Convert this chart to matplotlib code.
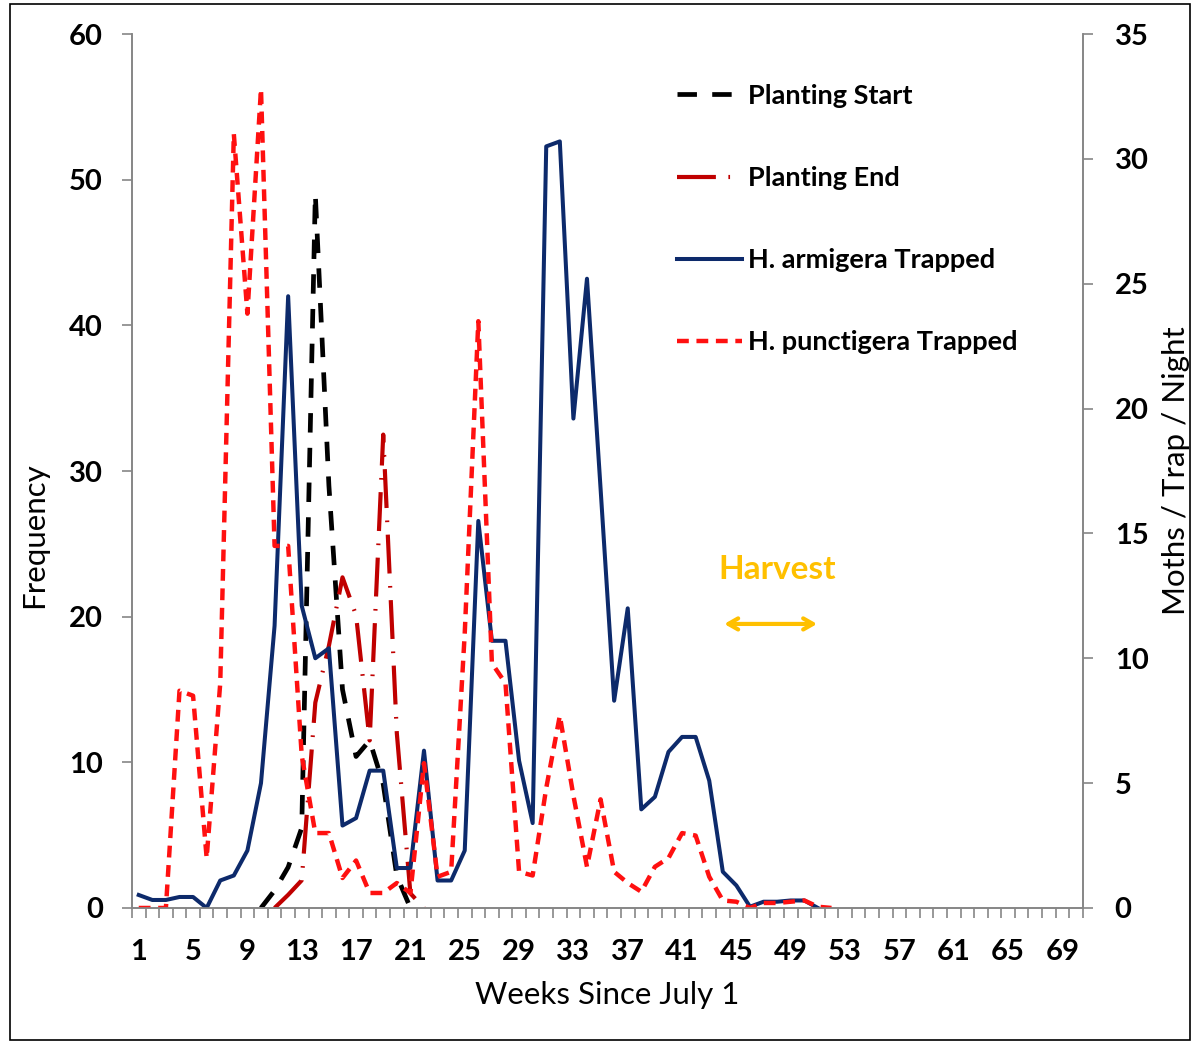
import numpy as np
import matplotlib
matplotlib.use("Agg")
import matplotlib.pyplot as plt
from matplotlib.patches import Rectangle

plt.rcParams['font.family'] = ['Lato', 'DejaVu Sans']
plt.rcParams['lines.scale_dashes'] = False

# weeks since July 1 (category axis runs 1..70)
n_weeks = 70
tick_weeks = list(range(1, 70, 4))

# moth trap counts (right axis, moths / trap / night)
trap_weeks = list(range(1, 53))
armigera = [0.52, 0.32, 0.32, 0.44, 0.44, 0.0, 1.1, 1.3, 2.3, 5.0,
            11.3, 24.5, 12.1, 10.0, 10.4, 3.3, 3.6, 5.5, 5.5, 1.6,
            1.6, 6.3, 1.1, 1.1, 2.3, 15.5, 10.7, 10.7, 5.9, 3.4,
            30.5, 30.7, 19.6, 25.2, 16.8, 8.3, 12.0, 3.95, 4.45, 6.25,
            6.85, 6.85, 5.1, 1.45, 0.9, 0.05, 0.25, 0.25, 0.3, 0.3,
            0.0, np.nan]
punctigera = [0.0, 0.0, 0.0, 8.7, 8.5, 2.0, 9.0, 31.0, 23.8, 32.8,
              14.5, 14.5, 6.1, 3.0, 3.0, 1.2, 1.9, 0.6, 0.6, 1.0,
              0.6, 5.8, 1.25, 1.45, 11.0, 23.5, 9.8, 9.0, 1.45, 1.3,
              4.8, 7.7, 4.5, 1.65, 4.35, 1.45, 1.0, 0.65, 1.65, 2.0,
              3.0, 2.9, 1.25, 0.3, 0.25, 0.0, 0.2, 0.2, 0.25, 0.3,
              0.05, 0.0]

# planting frequency (left axis)
start_weeks = list(range(10, 22))
planting_start = [0, 1.2, 2.8, 5.5, 49.0, 29.0, 15.0, 10.4, 11.5, 8.5, 2.2, 0]
end_weeks = list(range(11, 23))
planting_end = [0, 0.9, 1.9, 14.1, 18.0, 22.7, 20.1, 11.5, 32.5, 12.0, 1.0, 0]

gold = '#FFC000'
grey = '#868686'

fig = plt.figure(figsize=(11.93, 10.44), dpi=100)
ax = fig.add_axes([0.1106, 0.1303, 0.797, 0.8371])
ax2 = ax.twinx()

l1, = ax.plot(start_weeks, planting_start, color='black', lw=3.4,
              dashes=(14, 11), label='Planting Start')
l2, = ax.plot(end_weeks, planting_end, color='#C00000', lw=3.0,
              dashes=(28, 9, 1.2, 9), label='Planting End')
l3, = ax2.plot(trap_weeks, armigera, color='#0D2A6B', lw=2.9,
               label='H. armigera Trapped')
l4, = ax2.plot(trap_weeks, punctigera, color='#FF1010', lw=3.2,
               dashes=(8.5, 5.5), label='H. punctigera Trapped')

ax.set_xlim(0.5, n_weeks + 0.5)
ax.set_ylim(0, 60)
ax2.set_ylim(0, 35)
ax.set_yticks(range(0, 61, 10))
ax2.set_yticks(range(0, 36, 5))

# category ticks between weeks, labels on every 4th week
ax.set_xticks(np.arange(0.5, n_weeks + 1, 1))
ax.set_xticklabels([])
ax.set_xticks(tick_weeks, minor=True)
ax.set_xticklabels([str(w) for w in tick_weeks], minor=True)
ax.tick_params(axis='x', which='major', length=7, width=1.2, color=grey)
ax.tick_params(axis='x', which='minor', length=0, pad=22, labelsize=21)
ax.tick_params(axis='y', length=7, width=1.2, color=grey, pad=14, labelsize=21)
ax2.tick_params(axis='y', length=7, width=1.2, color=grey, pad=16, labelsize=21)
for lab in ax.get_xticklabels(minor=True) + ax.get_yticklabels() + ax2.get_yticklabels():
    lab.set_fontweight('bold')

for a in (ax, ax2):
    a.spines['top'].set_visible(False)
    for s in ('left', 'right', 'bottom'):
        a.spines[s].set_color(grey)
        a.spines[s].set_linewidth(1.2)

ax.set_ylabel('Frequency', fontsize=22.5)
ax.yaxis.set_label_coords(-0.088, 0.427)
ax2.set_ylabel('Moths / Trap / Night', fontsize=22.5)
ax2.yaxis.set_label_coords(1.083, 0.5)
ax.set_xlabel('Weeks Since July 1', fontsize=22.5)
ax.xaxis.set_label_coords(0.5, -0.083)

# harvest marker
ax.annotate('', xy=(0.620, 0.325), xytext=(0.7235, 0.325), xycoords='axes fraction',
            arrowprops=dict(arrowstyle='<->,head_length=0.7,head_width=0.4',
                            color=gold, lw=3))
ax.text(0.679, 0.387, 'Harvest', transform=ax.transAxes, color=gold,
        fontsize=24, fontweight='bold', ha='center', va='center')

leg = ax2.legend(handles=[l1, l2, l3, l4], loc='upper left',
                 bbox_to_anchor=(0.548, 0.971), frameon=False,
                 prop={'size': 19.5, 'weight': 'bold'},
                 handlelength=2.4, handletextpad=0.2, labelspacing=2.15)

fig.patches.append(Rectangle((10 / 1193, 4 / 1044), 1180 / 1193, 1036 / 1044,
                             transform=fig.transFigure, fill=False,
                             ec='black', lw=1.2))

fig.savefig('out.png', dpi=100)
